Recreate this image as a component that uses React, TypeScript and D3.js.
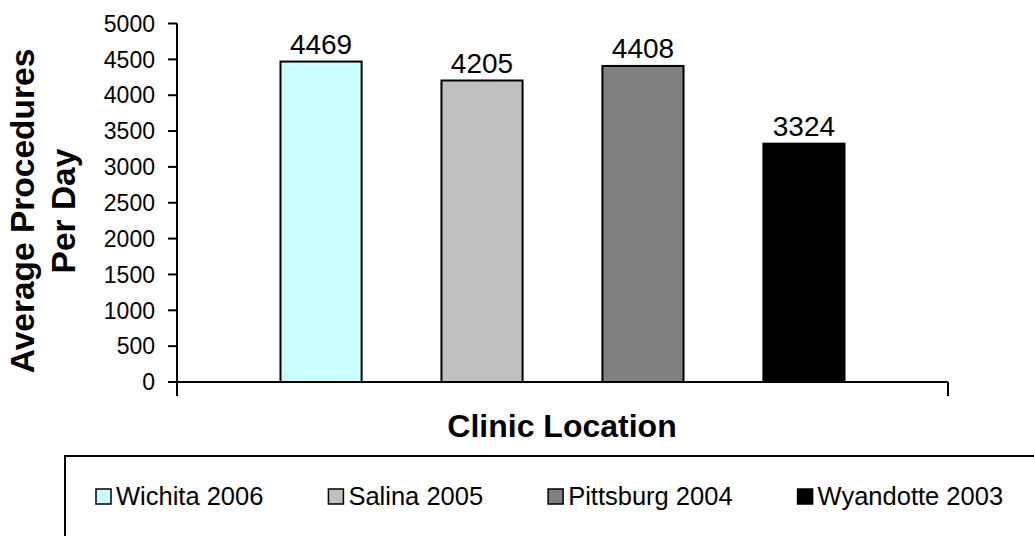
import React, { useEffect, useRef } from "react";
import * as d3 from "d3";

const categories = ["Wichita 2006", "Salina 2005", "Pittsburg 2004", "Wyandotte 2003"];
const values = [4469, 4205, 4408, 3324];
const colors = ["#CCFFFF", "#C0C0C0", "#808080", "#000000"];
const yTicks = [0, 500, 1000, 1500, 2000, 2500, 3000, 3500, 4000, 4500, 5000];
const yTitleLines = ["Average Procedures", "Per Day"];
const xTitle = "Clinic Location";

const W = 1034;
const H = 536;
const FONT = "'Liberation Sans', Arial, Helvetica, sans-serif";

export default function App() {
  const ref = useRef<SVGSVGElement | null>(null);

  useEffect(() => {
    const svg = d3.select(ref.current);
    svg.selectAll("*").remove();

    const x0 = 177, x1 = 948, yBase = 382, yTop = 23.5;
    const x = d3.scaleBand<string>().domain(categories).range([x0, x1]).paddingInner(0.496).paddingOuter(0.643);
    const y = d3.scaleLinear().domain([0, 5000]).range([yBase, yTop]);

    svg.append("rect").attr("width", W).attr("height", H).attr("fill", "#fff");

    // bars
    const data = categories.map((c, i) => ({ c, v: values[i], col: colors[i] }));
    svg.append("g").selectAll("rect").data(data).join("rect")
      .attr("x", d => x(d.c)!)
      .attr("y", d => y(d.v))
      .attr("width", x.bandwidth())
      .attr("height", d => y(0) - y(d.v))
      .attr("fill", d => d.col)
      .attr("stroke", "#000")
      .attr("stroke-width", 2);

    // data labels
    svg.append("g").selectAll("text").data(data).join("text")
      .attr("x", d => x(d.c)! + x.bandwidth() / 2)
      .attr("y", d => y(d.v) - 8)
      .attr("text-anchor", "middle")
      .attr("font-family", FONT)
      .attr("font-size", 28)
      .attr("fill", "#000")
      .text(d => String(d.v));

    // y axis
    const ax = svg.append("g");
    ax.append("line").attr("x1", x0).attr("x2", x0).attr("y1", y(5000)).attr("y2", yBase + 14)
      .attr("stroke", "#000").attr("stroke-width", 2);
    ax.selectAll("line.t").data(yTicks).join("line").attr("class", "t")
      .attr("x1", x0 - 9).attr("x2", x0).attr("y1", d => y(d)).attr("y2", d => y(d))
      .attr("stroke", "#000").attr("stroke-width", 2);
    ax.selectAll("text").data(yTicks).join("text")
      .attr("x", x0 - 22).attr("y", d => y(d)).attr("dy", "0.36em")
      .attr("text-anchor", "end").attr("font-family", FONT).attr("font-size", 23)
      .text(d => String(d));

    // x axis
    ax.append("line").attr("x1", x0).attr("x2", x1).attr("y1", yBase).attr("y2", yBase)
      .attr("stroke", "#000").attr("stroke-width", 2);
    ax.append("line").attr("x1", x1).attr("x2", x1).attr("y1", yBase).attr("y2", yBase + 14)
      .attr("stroke", "#000").attr("stroke-width", 2);

    // titles
    svg.append("text").attr("x", 562).attr("y", 437).attr("text-anchor", "middle")
      .attr("font-family", FONT).attr("font-size", 32).attr("font-weight", "bold").text(xTitle);
    const yt = svg.append("text").attr("transform", "translate(0,211) rotate(-90)")
      .attr("text-anchor", "middle").attr("font-family", FONT).attr("font-size", 33.5).attr("font-weight", "bold");
    yTitleLines.forEach((l, i) => {
      yt.append("tspan").attr("x", 0).attr("y", 34 + i * 41).text(l);
    });

    // legend
    svg.append("rect").attr("x", 65).attr("y", 456).attr("width", 1100).attr("height", 200)
      .attr("fill", "none").attr("stroke", "#000").attr("stroke-width", 2);
    const lg = svg.append("g");
    let cx = 96;
    data.forEach(d => {
      lg.append("rect").attr("x", cx).attr("y", 489).attr("width", 15).attr("height", 15)
        .attr("fill", d.col).attr("stroke", "#000").attr("stroke-width", 1.5);
      const t = lg.append("text").attr("x", cx + 20).attr("y", 505).attr("font-family", FONT)
        .attr("font-size", 25.5).text(d.c);
      const w = (t.node() as SVGTextElement).getComputedTextLength();
      cx = cx + 20 + w + 65;
    });
  }, []);

  return (
    <svg ref={ref} width={W} height={H} style={{ position: "absolute", left: 0, top: 0, display: "block" }} />
  );
}
